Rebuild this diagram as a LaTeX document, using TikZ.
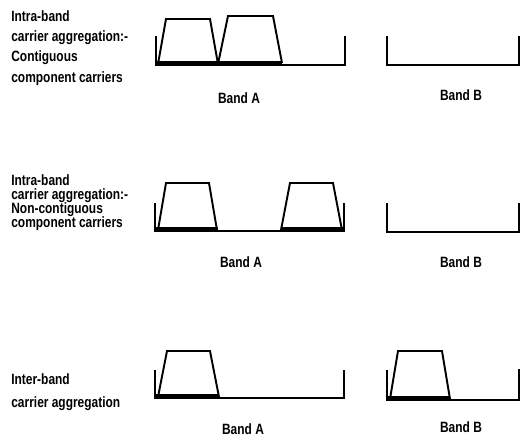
\documentclass[tikz,border=0pt]{standalone}
\usepackage{fontspec}
\setmainfont{Liberation Sans}
\newfontfamily\narrowfont[FakeStretch=0.8]{Liberation Sans}
\begin{document}
\begin{tikzpicture}[x=0.02cm,y=-0.02cm]
	\tikzstyle{band}=[line width=1.6pt]
	\tikzstyle{carrier}=[line width=1.1pt, line join=miter]
	\tikzstyle{occupied}=[line width=3pt]
	\tikzstyle{desc}=[anchor=mid west, inner sep=0pt, font=\narrowfont\bfseries\fontsize{8.5}{10}\selectfont]
	\tikzstyle{bandname}=[inner sep=0pt, font=\narrowfont\bfseries\fontsize{8.5}{10}\selectfont]
	\useasboundingbox (0,0) rectangle (521,437);

	% intra-band, contiguous
	\node[desc] (c1) at (11,17) {Intra-band};
	\node[desc] (c2) at (11,37) {carrier aggregation:-};
	\node[desc] (c3) at (11,57) {Contiguous};
	\node[desc] (c4) at (11,78) {component carriers};
	\draw[occupied] (156,63.5) -- (282,63.5);
	\draw[band] (156,36) -- (156,65) -- (345,65) -- (345,36);
	\draw[carrier] (158,64) -- (166,19) -- (210,19) -- (218,64);
	\draw[carrier] (218,64) -- (228,16) -- (273,16) -- (282,63);
	\draw[band] (387,36) -- (387,65) -- (519,65) -- (519,36);
	\node[bandname] (ca) at (239,98) {Band A};
	\node[bandname] (cb) at (461,95) {Band B};

	% intra-band, non-contiguous
	\node[desc] (n1) at (11,181) {Intra-band};
	\node[desc] (n2) at (11,195) {carrier aggregation:-};
	\node[desc] (n3) at (11,209) {Non-contiguous};
	\node[desc] (n4) at (11,223) {component carriers};
	\draw[occupied] (155,229.5) -- (218,229.5);
	\draw[occupied] (281,229.5) -- (344,229.5);
	\draw[band] (155,203) -- (155,231) -- (344,231) -- (344,203);
	\draw[carrier] (158,230) -- (166,183) -- (209,183) -- (217,230);
	\draw[carrier] (281,230) -- (290,183) -- (333,183) -- (342,230);
	\draw[band] (387,203) -- (387,232) -- (519,232) -- (519,203);
	\node[bandname] (na) at (241,262) {Band A};
	\node[bandname] (nb) at (461,262) {Band B};

	% inter-band
	\node[desc] (i1) at (11,380) {Inter-band};
	\node[desc] (i2) at (11,403) {carrier aggregation};
	\draw[occupied] (155,396.5) -- (219,396.5);
	\draw[band] (155,370) -- (155,398) -- (344,398) -- (344,370);
	\draw[carrier] (158,397) -- (167,351) -- (210,351) -- (219,397);
	\draw[occupied] (387,398.5) -- (450,398.5);
	\draw[band] (387,370) -- (387,400) -- (519,400) -- (519,369);
	\draw[carrier] (390,399) -- (398,351) -- (442,351) -- (450,399);
	\node[bandname] (ia) at (243,429) {Band A};
	\node[bandname] (ib) at (461,427) {Band B};
\end{tikzpicture}
\end{document}
